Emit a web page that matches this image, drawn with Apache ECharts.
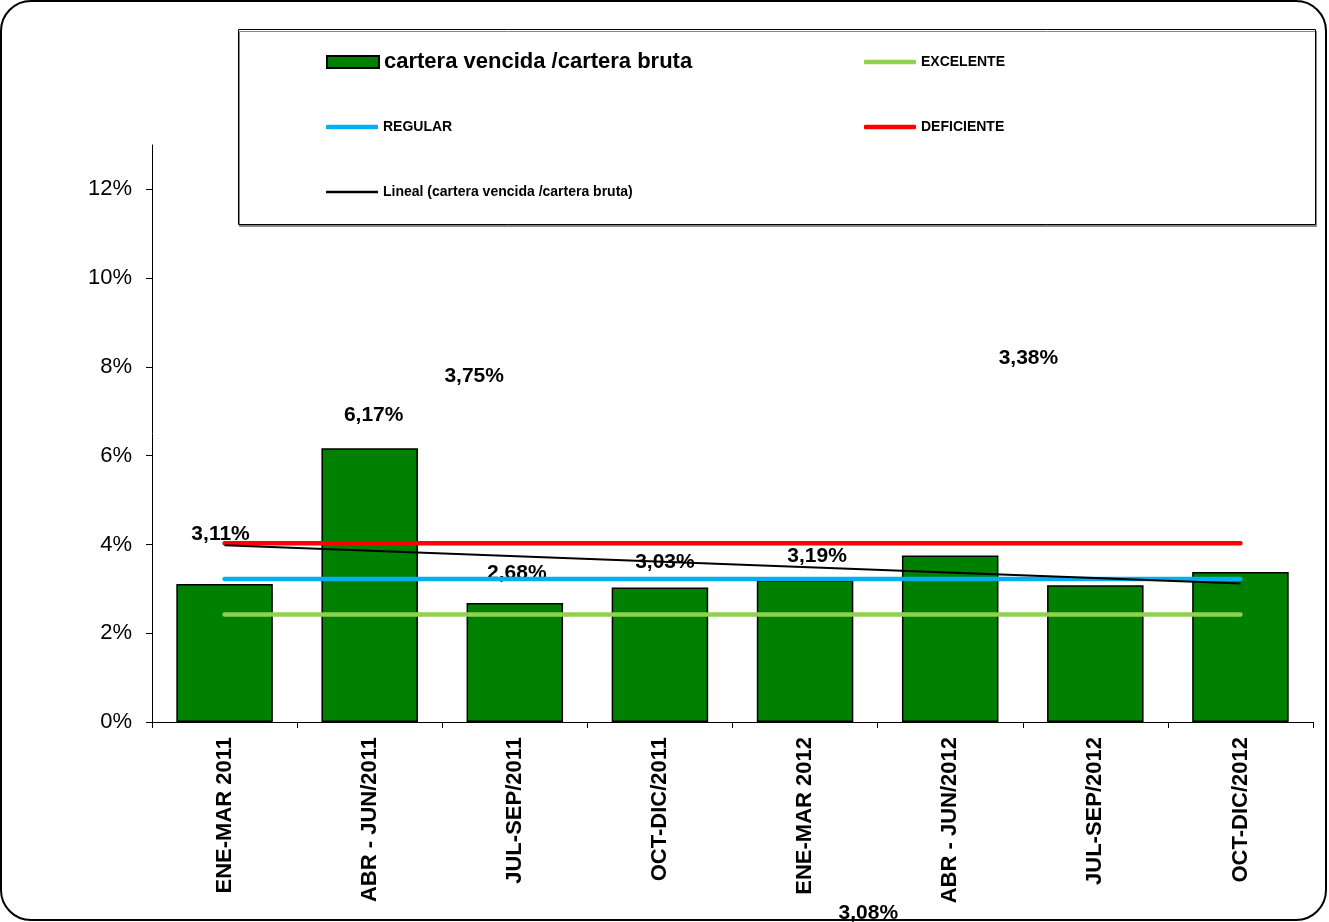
<!DOCTYPE html>
<html>
<head>
<meta charset="utf-8">
<script src="https://cdn.jsdelivr.net/npm/echarts@6/dist/echarts.min.js"></script>
<style>
html,body{margin:0;padding:0;background:#fff;}
#chart{width:1329px;height:922px;}
</style>
</head>
<body>
<div id="chart"></div>
<script>
const categories = ['ENE-MAR 2011','ABR - JUN/2011','JUL-SEP/2011','OCT-DIC/2011','ENE-MAR 2012','ABR - JUN/2012','JUL-SEP/2012','OCT-DIC/2012'];
const carteraRatio = [3.11, 6.17, 2.68, 3.03, 3.19, 3.75, 3.08, 3.38];
const excelente = [2.42, 2.42, 2.42, 2.42, 2.42, 2.42, 2.42, 2.42];
const regular = [3.22, 3.22, 3.22, 3.22, 3.22, 3.22, 3.22, 3.22];
const deficiente = [4.03, 4.03, 4.03, 4.03, 4.03, 4.03, 4.03, 4.03];
const trendLine = [3.98, null, null, null, null, null, null, 3.12];
const yTicks = [0, 2, 4, 6, 8, 10, 12];

const names = {
  bar: 'cartera vencida /cartera bruta',
  exc: 'EXCELENTE',
  reg: 'REGULAR',
  def: 'DEFICIENTE',
  trend: 'Lineal (cartera vencida /cartera bruta)'
};

// label displacement (as in the reference picture) relative to the top of each bar
const labelOffsets = [[-4,-39],[4,-22],[2,-19],[5,-15],[12,-14],[-476,-169],[-227,338],[-212,-203]];

const FONT = "'Liberation Sans', Arial, Helvetica, sans-serif";

const chart = echarts.init(document.getElementById('chart'), null, {renderer: 'canvas'});

function fmtPct(v){ return v.toFixed(2).replace('.', ',') + '%'; }

const smallLegend = (name, left, top, h) => ({
  data: [name],
  left: left, top: top,
  orient: 'vertical',
  padding: 0,
  icon: 'roundRect',
  itemWidth: 52, itemHeight: h,
  selectedMode: false,
  textStyle: {fontFamily: FONT, fontSize: 14, fontWeight: 'bold', color: '#000', lineHeight: 14}
});

const option = {
  backgroundColor: '#fff',
  animation: false,
  graphic: [
    {type: 'rect', z: -10, shape: {x: 1, y: 1, width: 1325, height: 919, r: 30},
     style: {fill: '#fff', stroke: '#000', lineWidth: 2}},
    {type: 'rect', z: 0, shape: {x: 238.5, y: 29.5, width: 1077, height: 195},
     style: {fill: '#fff', stroke: '#000', lineWidth: 1, shadowColor: '#888', shadowOffsetX: 1, shadowOffsetY: 2, shadowBlur: 0}}
  ],
  legend: [
    {
      data: [names.bar], left: 326, top: 51, padding: 0,
      itemWidth: 52, itemHeight: 12, icon: 'rect', selectedMode: false,
      textStyle: {fontFamily: FONT, fontSize: 22, fontWeight: 'bold', color: '#000', lineHeight: 22}
    },
    smallLegend(names.reg, 326, 120, 4.5),
    smallLegend(names.trend, 326, 185, 2.5),
    smallLegend(names.exc, 864, 55, 4.5),
    smallLegend(names.def, 864, 120, 4.5)
  ],
  grid: {left: 152, right: 16, top: 145, bottom: 200, containLabel: false, outerBoundsMode: 'none'},
  xAxis: {
    type: 'category',
    data: categories,
    boundaryGap: true,
    axisLine: {lineStyle: {color: '#000', width: 1}},
    axisTick: {show: true, length: 6, inside: false, lineStyle: {color: '#000'}},
    axisLabel: {rotate: 90, margin: 15, fontFamily: FONT, fontSize: 22, fontWeight: 'bold', color: '#000', interval: 0},
    splitLine: {show: false}
  },
  yAxis: {
    type: 'value',
    min: 0, max: 13, interval: 2,
    axisLine: {show: true, lineStyle: {color: '#000', width: 1}},
    axisTick: {show: true, length: 6, lineStyle: {color: '#000'}, customValues: yTicks},
    axisLabel: {margin: 20, fontFamily: FONT, fontSize: 22, color: '#000', formatter: v => v + '%', customValues: yTicks},
    splitLine: {show: false}
  },
  series: [
    {
      name: names.bar,
      type: 'bar',
      barWidth: '66.5%',
      z: 2,
      itemStyle: {color: '#008000', borderColor: '#000', borderWidth: 1.5},
      data: carteraRatio.map((v, i) => ({
        value: v,
        label: {offset: labelOffsets[i]}
      })),
      label: {
        show: true, position: 'top', distance: 0,
        fontFamily: FONT, fontSize: 21, fontWeight: 'bold', color: '#000', lineHeight: 21,
        formatter: p => fmtPct(p.value)
      }
    },
    {
      name: names.exc, type: 'line', z: 3, symbol: 'none', data: excelente,
      itemStyle: {color: '#92D050'}, lineStyle: {color: '#92D050', width: 4.5, cap: 'round'}
    },
    {
      name: names.reg, type: 'line', z: 3, symbol: 'none', data: regular,
      itemStyle: {color: '#00B0F0'}, lineStyle: {color: '#00B0F0', width: 4.5, cap: 'round'}
    },
    {
      name: names.def, type: 'line', z: 3, symbol: 'none', data: deficiente,
      itemStyle: {color: '#FF0000'}, lineStyle: {color: '#FF0000', width: 4.5, cap: 'round'}
    },
    {
      name: names.trend, type: 'line', z: 4, symbol: 'none', data: trendLine, connectNulls: true,
      itemStyle: {color: '#000'}, lineStyle: {color: '#000', width: 2}
    }
  ]
};

chart.setOption(option);
</script>
</body>
</html>
